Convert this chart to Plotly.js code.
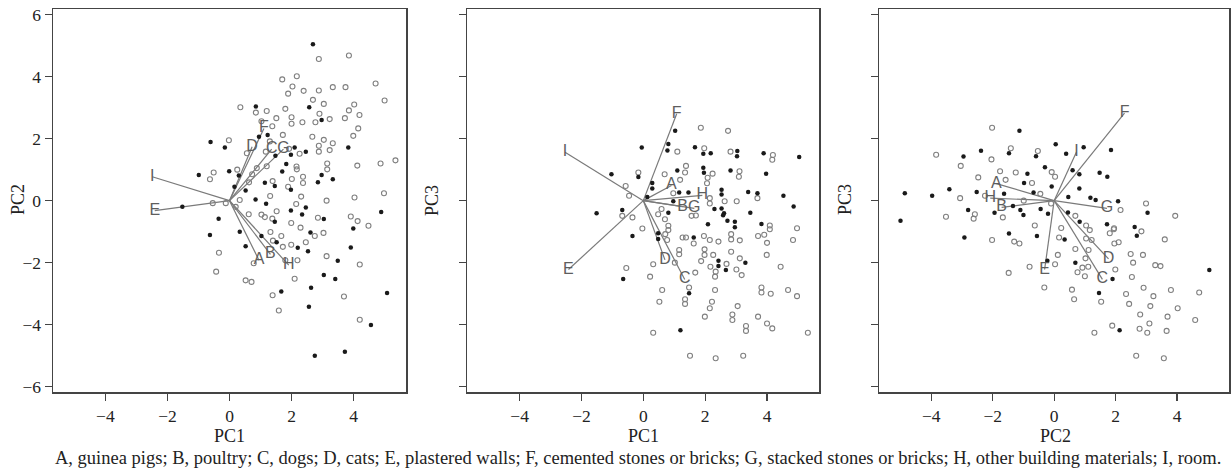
<!DOCTYPE html>
<html>
<head>
<meta charset="utf-8">
<script src="https://cdn.plot.ly/plotly-3.0.1.min.js"></script>
<style>
html,body{margin:0;padding:0;background:#fff;}
#chart{width:1231px;height:470px;}
</style>
</head>
<body>
<div id="chart"></div>
<script>
// ---------- DATA ----------
var vecLabels = ["A","B","C","D","E","F","G","H","I"];

// Panel 1: PC1 (x) vs PC2 (y)
var p1VecX = [0.95, 1.32, 1.36, 0.73, -2.41, 1.11, 1.74, 1.91, -2.49];
var p1VecY = [-1.92, -1.73, 1.66, 1.74, -0.32, 2.33, 1.66, -2.08, 0.77];
var p1OpenX = [2.88,3.85,1.70,2.17,2.03,1.89,2.39,2.88,3.33,3.74,4.71,5.0,2.69,3.04,4.02,4.19,3.85,3.72,4.15,0.35,0.85,1.20,1.03,1.51,1.80,2.0,2.0,2.35,2.77,2.90,3.23,1.38,1.30,1.72,2.67,3.04,3.33,2.88,2.88,3.23,3.99,-0.02,0.56,2.26,1.92,1.17,2.16,2.17,2.01,2.37,2.37,1.89,3.15,3.15,4.12,4.87,5.35,4.98,-0.51,-0.63,0.25,0.73,0.88,1.20,0.63,1.39,1.31,0.33,2.15,2.31,3.13,4.03,-0.54,-0.12,0.20,1.52,1.03,1.14,1.38,0.62,1.99,2.29,2.85,3.91,4.13,4.48,1.32,1.67,1.40,1.72,1.99,2.46,2.75,3.03,3.13,4.20,2.19,1.80,-0.34,-0.43,0.78,0.52,0.71,2.10,1.39,3.69,1.59,4.20];
var p1OpenY = [4.57,4.68,3.91,4.01,3.68,3.45,3.54,3.55,3.66,3.66,3.78,3.23,3.25,3.12,3.10,2.76,2.91,2.66,2.33,3.01,2.84,2.89,2.56,2.66,2.96,2.69,2.48,2.53,2.53,2.80,2.63,2.40,1.91,2.12,2.06,1.96,1.85,1.77,1.58,1.63,2.09,1.95,1.53,1.51,1.67,1.58,1.10,1.01,0.70,0.77,0.57,0.45,1.20,1.01,1.13,1.20,1.30,0.24,0.91,0.69,1.00,0.85,1.05,1.11,0.59,0.63,0.15,0.02,-0.11,0.13,0.00,0.10,-0.08,-0.08,-0.20,-0.34,-0.45,-0.53,-0.58,-0.44,-0.72,-0.87,-0.55,-0.51,-0.66,-0.81,-1.01,-1.14,-1.29,-1.49,-1.42,-1.34,-1.14,-1.04,-1.79,-2.06,-1.92,-1.92,-1.68,-2.29,-2.02,-2.57,-2.62,-2.52,-3.05,-3.09,-3.54,-3.84];
var p1FillX = [2.69,2.57,0.85,2.97,0.95,1.23,3.83,-0.61,-0.15,2.10,1.98,2.46,1.48,1.83,1.70,1.98,2.85,2.97,3.33,-0.99,-0.01,0.30,0.16,0.52,1.14,1.46,0.84,1.18,-1.52,-0.35,1.98,2.46,2.34,1.46,3.04,4.89,3.99,-0.63,0.33,0.52,1.03,1.52,2.20,2.61,2.53,3.49,3.91,3.04,3.41,2.63,1.67,5.08,2.56,4.56,2.75,3.72];
var p1FillY = [5.04,3.01,3.04,2.60,2.06,2.12,1.71,1.89,1.71,1.71,1.48,1.58,1.45,1.18,0.94,0.35,0.59,0.83,0.69,0.83,0.95,0.81,0.45,0.33,0.58,0.47,0.04,-0.10,-0.20,-0.58,-0.32,-0.22,-0.45,-0.68,-0.59,-0.37,-0.90,-1.11,-1.00,-1.47,-1.14,-1.34,-1.52,-1.03,-1.63,-1.94,-1.51,-2.40,-2.53,-2.81,-2.93,-2.98,-3.42,-4.01,-5.00,-4.87];

// Panel 2: PC1 (x) vs PC3 (y)
var p2VecX = [0.91, 1.27, 1.34, 0.70, -2.42, 1.08, 1.65, 1.91, -2.53];
var p2VecY = [0.49, -0.19, -2.54, -1.91, -2.22, 2.80, -0.25, 0.17, 1.56];
var p2OpenX = [1.86,2.74,1.10,1.97,2.82,4.19,4.17,-0.16,-0.57,-0.46,0.69,1.38,1.35,1.19,2.08,2.24,2.06,3.11,3.09,3.69,0.97,2.15,2.15,2.63,3.02,-0.68,-0.35,0.59,0.48,0.70,0.81,-0.03,1.56,1.70,4.09,4.09,4.97,0.81,0.71,0.77,1.27,1.38,1.63,1.96,2.15,2.43,2.84,2.84,3.12,3.71,3.91,4.00,4.84,1.16,1.16,1.02,0.32,-0.55,0.22,1.98,1.87,1.98,2.17,2.26,2.34,2.32,2.69,2.84,3.12,3.01,3.18,3.99,4.44,1.68,1.48,0.61,0.52,1.35,1.35,2.32,2.22,2.15,1.99,3.05,2.88,2.88,3.82,3.82,4.12,4.68,4.97,3.71,4.00,4.17,3.32,3.32,5.32,0.32,1.51,2.34,3.23];
var p2OpenY = [2.35,2.25,1.58,1.69,1.58,1.47,1.32,0.91,0.47,0.16,0.85,1.12,0.91,0.67,0.74,0.87,0.56,0.95,0.77,0.08,0.24,0.08,-0.09,-0.02,-0.02,-0.49,-0.54,-0.27,-0.44,-0.60,-0.81,-0.90,-0.49,-0.48,-0.80,-0.92,-0.89,-0.95,-1.08,-1.27,-1.19,-1.19,-1.38,-1.14,-1.27,-1.32,-1.08,-1.25,-1.28,-1.14,-1.10,-1.36,-1.27,-1.59,-1.73,-2.00,-2.05,-2.17,-2.45,-1.57,-1.95,-1.75,-2.13,-1.75,-2.29,-2.45,-2.04,-1.65,-1.86,-2.22,-2.40,-1.75,-2.13,-2.32,-2.80,-2.88,-3.26,-3.18,-3.33,-2.88,-3.26,-3.47,-3.74,-3.40,-3.67,-3.85,-2.80,-2.96,-3.00,-2.88,-3.08,-3.74,-3.96,-4.12,-4.04,-4.20,-4.26,-4.26,-5.00,-5.08,-5.00];
var p2FillX = [1.03,-0.05,0.81,0.78,1.67,1.94,2.18,3.04,3.03,3.89,5.04,-1.03,-0.16,0.29,0.29,1.10,1.94,1.96,2.82,3.97,2.53,2.53,3.39,3.69,4.53,4.86,1.16,0.97,1.46,0.13,-1.51,-0.68,0.81,2.30,2.53,2.61,2.58,2.72,2.96,2.96,3.46,3.82,2.09,-0.35,0.48,0.48,1.63,2.43,2.43,2.67,3.30,-0.65,1.48,1.20];
var p2FillY = [2.25,1.71,1.83,1.62,1.72,1.51,1.53,1.60,1.43,1.53,1.41,0.85,0.76,0.57,0.39,0.97,1.06,0.90,0.97,0.87,0.35,0.20,0.28,0.24,0.16,-0.19,0.26,-0.02,0.26,0.12,-0.41,-0.30,-0.39,-0.27,-0.25,-0.41,-0.47,-0.65,-0.68,-0.86,-0.39,-0.75,-0.76,-1.14,-1.05,-1.24,-1.19,-1.94,-2.11,-2.24,-2.00,-2.53,-2.99,-4.18];

// Panel 3: PC2 (x) vs PC3 (y)
var p3VecX = [-1.88, -1.71, 1.57, 1.77, -0.31, 2.29, 1.72, -2.08, 0.73];
var p3VecY = [0.55, -0.22, -2.54, -1.88, -2.22, 2.82, -0.25, 0.08, 1.58];
var p3OpenX = [-2.02,-3.84,-2.04,-1.41,-0.53,-3.04,-2.47,-1.76,-1.58,-1.25,-0.72,-0.08,0.03,-0.45,2.16,2.99,3.94,-3.06,-2.25,-2.58,-2.62,-3.52,-1.67,-0.99,-0.10,-0.63,0.69,1.04,0.23,1.95,1.16,2.84,-2.02,-1.30,-1.13,0.16,1.04,1.22,0.69,1.12,0.12,1.02,-0.80,0.03,-1.48,-0.32,0.76,0.92,1.11,1.00,0.58,0.65,1.53,1.81,1.94,1.96,2.10,1.99,2.49,2.57,2.89,2.53,2.34,2.44,2.91,3.23,3.13,2.80,3.10,2.78,3.03,3.66,3.69,3.80,4.02,4.59,4.72,3.29,3.46,3.60,1.89,1.31,2.67,3.57];
var p3OpenY = [2.35,1.48,1.33,1.69,1.60,1.12,0.75,0.95,0.67,0.91,0.57,0.92,0.77,0.22,-0.30,-0.09,-0.49,0.08,0.16,-0.44,-0.58,-0.52,-0.54,0.00,-0.09,-0.80,-0.49,-0.80,-0.88,-0.89,-0.95,-0.99,-1.27,-1.32,-1.38,-1.19,-1.22,-1.27,-1.56,-1.59,-1.75,-1.86,-2.13,-2.05,-2.33,-2.80,-2.31,-2.16,-2.13,-2.44,-2.87,-3.18,-3.26,-1.05,-0.92,-1.38,-1.34,-2.22,-1.72,-2.00,-1.75,-2.46,-3.01,-3.33,-2.81,-3.08,-3.40,-3.67,-3.96,-4.13,-4.26,-4.20,-3.74,-2.88,-3.47,-3.85,-2.96,-2.08,-2.11,-1.25,-4.03,-4.26,-5.00,-5.08];
var p3FillX = [-1.13,-2.95,-2.38,-1.47,-0.59,0.05,0.39,0.96,1.85,-0.87,-0.98,-0.30,-0.08,0.60,0.82,0.82,1.48,1.73,-0.67,0.46,1.18,1.35,2.08,3.04,-4.86,-3.97,-3.41,-2.52,-1.63,-2.80,-5.00,-1.94,-1.34,-1.10,-1.00,-0.44,-0.20,0.45,0.83,1.72,2.62,-2.92,-1.47,-0.56,0.34,0.69,-0.22,1.46,1.90,2.69,5.05,2.13];
var p3FillY = [2.25,1.42,1.61,1.53,1.43,1.82,1.51,1.72,1.63,0.87,0.57,1.08,0.46,0.98,0.85,0.39,0.90,0.77,0.26,0.12,0.09,0.02,-0.02,-0.39,0.24,0.16,0.37,0.28,0.22,-0.30,-0.65,-0.39,-0.17,-0.30,-0.46,-0.27,-0.42,-0.38,-0.68,-0.76,-0.85,-1.19,-1.06,-1.14,-1.25,-2.00,-1.94,-2.98,-2.53,-1.13,-2.24,-4.18];

var xTickVals = [-4,-2,0,2,4];
var yTickVals = [-6,-4,-2,0,2,4,6];
var xTitles = ["PC1","PC1","PC2"];
var yTitles = ["PC2","PC3","PC3"];
var caption = "A, guinea pigs; B, poultry; C, dogs; D, cats; E, plastered walls; F, cemented stones or bricks; G, stacked stones or bricks; H, other building materials; I, room.";

// ---------- BUILD ----------
var panels = [
  {vx:p1VecX, vy:p1VecY, ox:p1OpenX, oy:p1OpenY, fx:p1FillX, fy:p1FillY},
  {vx:p2VecX, vy:p2VecY, ox:p2OpenX, oy:p2OpenY, fx:p2FillX, fy:p2FillY},
  {vx:p3VecX, vy:p3VecY, ox:p3OpenX, oy:p3OpenY, fx:p3FillX, fy:p3FillY}
];
var domains = [[53/1231, 406/1231],[467.3/1231, 819.3/1231],[879.3/1231, 1229/1231]];
var yDom = [1-392.3/470, 1-9/470];
var titleX = [229, 643.3, 1055.7];
var yTitleX = [18, 432, 845];

var traces = [];
var layout = {
  width:1231, height:470,
  margin:{l:0,r:0,t:0,b:0},
  paper_bgcolor:'#fff', plot_bgcolor:'#fff',
  showlegend:false,
  font:{family:'"Liberation Serif","Times New Roman",serif', size:17, color:'#222'},
  annotations:[]
};

panels.forEach(function(p, i){
  var xa = i===0 ? 'x' : 'x'+(i+1);
  var ya = i===0 ? 'y' : 'y'+(i+1);
  var lx = [], ly = [];
  for (var k=0;k<p.vx.length;k++){ lx.push(0, p.vx[k], null); ly.push(0, p.vy[k], null); }
  traces.push({x:lx, y:ly, xaxis:xa, yaxis:ya, mode:'lines', type:'scatter',
    line:{color:'#7a7a7a', width:1.2}, hoverinfo:'skip'});
  traces.push({x:p.ox, y:p.oy, xaxis:xa, yaxis:ya, mode:'markers', type:'scatter',
    marker:{symbol:'circle-open', size:5, color:'#808080', line:{width:1.1, color:'#808080'}}});
  traces.push({x:p.fx, y:p.fy, xaxis:xa, yaxis:ya, mode:'markers', type:'scatter',
    marker:{symbol:'circle', size:4.5, color:'#1a1a1a'}});
  traces.push({x:p.vx, y:p.vy, xaxis:xa, yaxis:ya, mode:'text', type:'scatter',
    text:vecLabels, textposition:'middle center',
    textfont:{family:'"Liberation Sans",Arial,sans-serif', size:16, color:'#5e5e5e'}});

  var axBase = {
    showgrid:false, zeroline:false, showline:true, mirror:true,
    linecolor:'#444', linewidth:1.5, ticks:'outside', ticklen:7, tickwidth:1.3, tickcolor:'#444',
    tickfont:{family:'"Liberation Serif","Times New Roman",serif', size:17.5, color:'#222'}
  };
  var xk = i===0 ? 'xaxis' : 'xaxis'+(i+1);
  var yk = i===0 ? 'yaxis' : 'yaxis'+(i+1);
  layout[xk] = Object.assign({}, axBase, {domain:domains[i], range:[-5.69,5.69], tickvals:xTickVals, anchor:ya});
  layout[yk] = Object.assign({}, axBase, {domain:yDom, range:[-6.18,6.18], tickvals:yTickVals, anchor:xa, showticklabels:i===0});

  layout.annotations.push({xref:'paper', yref:'paper', x:titleX[i]/1231, y:1-436/470, text:xTitles[i],
    showarrow:false, xanchor:'center', yanchor:'middle', font:{size:18}});
  layout.annotations.push({xref:'paper', yref:'paper', x:yTitleX[i]/1231, y:1-200/470, text:yTitles[i],
    showarrow:false, xanchor:'center', yanchor:'middle', textangle:-90, font:{size:18}});
});
layout.annotations.push({xref:'paper', yref:'paper', x:638/1231, y:1-458/470, text:caption,
  showarrow:false, xanchor:'center', yanchor:'middle', font:{size:18.5}});

Plotly.newPlot('chart', traces, layout, {staticPlot:true, displayModeBar:false});
</script>
</body>
</html>
